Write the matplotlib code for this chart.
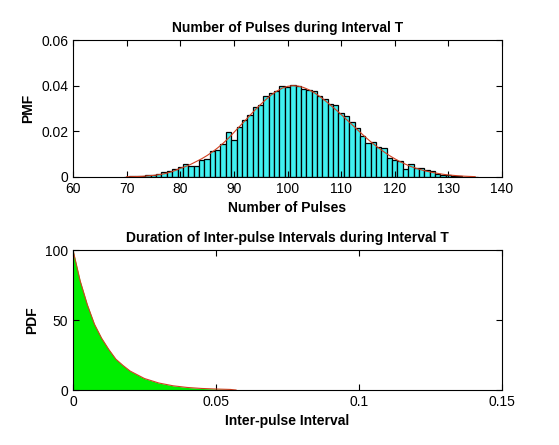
import matplotlib
matplotlib.use("Agg")
import matplotlib.pyplot as plt
import numpy as np

plt.rcParams['font.family'] = ['Liberation Sans', 'DejaVu Sans']

counts = list(range(70, 136))
pmf_hist = [0.2,0.3,0.3,0.5,0.8,1.0,1.5,2,2.5,3.5,4.5,5.5,5,5,7.5,8,11.5,12,14.5,19.5,
            16,22,25,27,30.5,31.5,35.5,37,37.5,40,39.2,40.3,39.8,38.5,38,37.5,35.5,34,32,31.5,
            28,26.5,24,21.5,18,15,15.5,13,12.5,8.5,7.5,7,3.5,5.5,4,4,3,2.5,1.5,1,
            0.8,0.5,0.3,0.2,0.1,0.1]
pmf_line = [0.1,0.15,0.2,0.3,0.5,0.7,1.0,1.4,2.0,2.8,
            3.8,4.6,5.6,6.8,8.0,9.4,11,12.8,14.8,17,
            19.5,22,24.5,27,29.5,31.8,34,36,37.6,38.9,
            39.7,40,39.8,39.2,38.2,36.9,35.3,33.5,31.5,29.5,
            27.4,25.2,23,20.8,18.6,16.5,14.5,12.7,11,9.4,
            8,6.7,5.6,4.6,3.8,3.1,2.5,2,1.6,1.2,
            0.9,0.7,0.5,0.35,0.25,0.15]

t_vals = [0,0.0025,0.005,0.0075,0.01,0.0125,0.015,0.0175,0.02,0.025,0.03,0.035,0.04,0.045,0.05,0.055,0.057]
pdf_vals = [100,78,61,47,37,29,22,17.5,13.5,8.2,5,3,1.8,1.1,0.7,0.4,0.0]

fig = plt.figure(figsize=(5.59,4.45), dpi=100)
ax1 = fig.add_axes([73/559, 1-177/445, 429/559, 137/445])
ax1.bar(counts, np.array(pmf_hist)/1000, width=1.0, color='#40f0f0', edgecolor='black', linewidth=0.9)
ax1.plot(counts, np.array(pmf_line)/1000, color='#d04020', linewidth=0.8)
ax1.set_xlim(60,140); ax1.set_ylim(0,0.06)
ax1.set_xticks(range(60,141,10)); ax1.set_yticks([0,0.02,0.04,0.06])
ax1.set_yticklabels(['0','0.02','0.04','0.06'])
ax1.set_title('Number of Pulses during Interval T', fontweight='bold', fontsize=10)
ax1.set_xlabel('Number of Pulses', fontweight='bold', fontsize=10)
ax1.set_ylabel('PMF', fontweight='bold', fontsize=10)

ax2 = fig.add_axes([73/559, 1-390/445, 429/559, 140/445])
ax2.fill_between(t_vals, pdf_vals, color='#00ee00', linewidth=0)
ax2.plot(t_vals, pdf_vals, color='#d04020', linewidth=0.8)
ax2.set_xlim(0,0.15); ax2.set_ylim(0,100)
ax2.set_xticks([0,0.05,0.1,0.15]); ax2.set_xticklabels(['0','0.05','0.1','0.15'])
ax2.set_yticks([0,50,100])
ax2.set_title('Duration of Inter-pulse Intervals during Interval T', fontweight='bold', fontsize=10)
ax2.set_xlabel('Inter-pulse Interval', fontweight='bold', fontsize=10)
ax2.set_ylabel('PDF', fontweight='bold', fontsize=10)

for ax in (ax1, ax2):
    ax.tick_params(direction='in', top=True, right=True, labelsize=10, length=4)
fig.savefig('out.png', dpi=100)
